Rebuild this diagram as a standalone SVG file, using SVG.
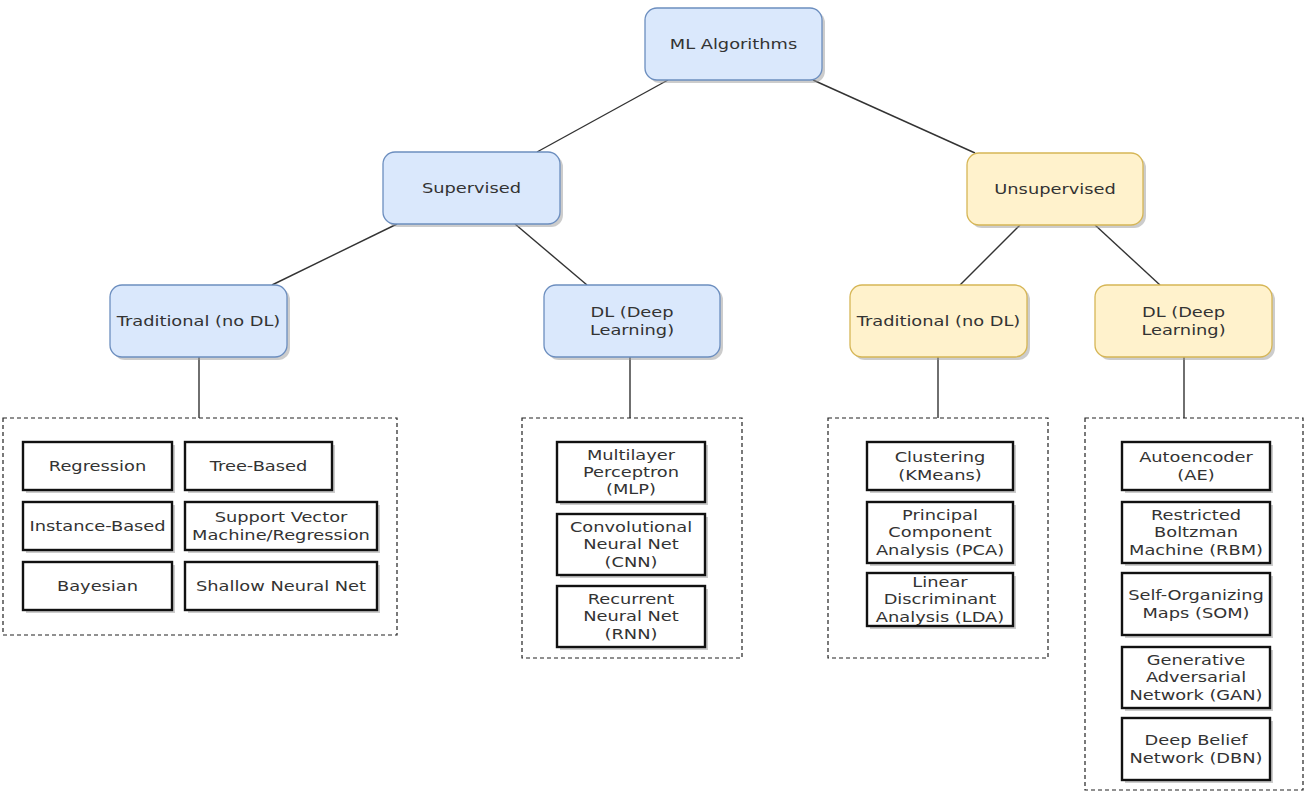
<svg xmlns="http://www.w3.org/2000/svg" width="1312" height="802" viewBox="0 0 1312 802">
<style>
.t{font-family:"DejaVu Sans",Verdana,sans-serif;font-size:14.6px;fill:#333;text-anchor:middle}
.blue{fill:#dae8fc;stroke:#6c8ebf;stroke-width:1.3}
.yel{fill:#fff2cc;stroke:#d6b656;stroke-width:1.3}
.sh{fill:#999;opacity:0.5}
.item{fill:#fff;stroke:#111;stroke-width:2.4}
.dash{fill:none;stroke:#222;stroke-width:1.2;stroke-dasharray:4 3}
.con line{stroke:#333;stroke-width:1.4}
</style>
<rect width="1312" height="802" fill="#fff"/>

<g id="connectors" class="con">
<line x1="668" y1="80" x2="537" y2="152"/>
<line x1="813" y1="80" x2="975" y2="153"/>
<line x1="397" y1="224" x2="272" y2="285"/>
<line x1="515" y1="224" x2="587" y2="285"/>
<line x1="1020" y1="225" x2="960" y2="285"/>
<line x1="1095" y1="225" x2="1160" y2="285"/>
<line x1="199" y1="357" x2="199" y2="418"/>
<line x1="630" y1="357" x2="630" y2="418"/>
<line x1="938" y1="357" x2="938" y2="418"/>
<line x1="1184" y1="357" x2="1184" y2="418"/>
</g>

<g id="ml">
<rect class="sh" x="648" y="11" width="177" height="72" rx="12"/>
<rect class="blue" x="645" y="8" width="177" height="72" rx="12"/>
<text class="t" transform="translate(733.5,49) scale(1.22,1)">ML Algorithms</text>
</g>
<g id="supervised">
<rect class="sh" x="386" y="155" width="177" height="72" rx="12"/>
<rect class="blue" x="383" y="152" width="177" height="72" rx="12"/>
<text class="t" transform="translate(471.5,193) scale(1.22,1)">Supervised</text>
</g>
<g id="unsupervised">
<rect class="sh" x="970" y="156" width="176" height="72" rx="12"/>
<rect class="yel" x="967" y="153" width="176" height="72" rx="12"/>
<text class="t" transform="translate(1055,194) scale(1.22,1)">Unsupervised</text>
</g>
<g id="sup-trad">
<rect class="sh" x="113" y="288" width="177" height="72" rx="12"/>
<rect class="blue" x="110" y="285" width="177" height="72" rx="12"/>
<text class="t" transform="translate(198.5,326) scale(1.22,1)">Traditional (no DL)</text>
</g>
<g id="sup-dl">
<rect class="sh" x="547" y="288" width="176" height="72" rx="12"/>
<rect class="blue" x="544" y="285" width="176" height="72" rx="12"/>
<text class="t" transform="translate(632,317.4) scale(1.22,1)"><tspan x="0">DL (Deep</tspan><tspan x="0" dy="17.3">Learning)</tspan></text>
</g>
<g id="unsup-trad">
<rect class="sh" x="853" y="288" width="177" height="72" rx="12"/>
<rect class="yel" x="850" y="285" width="177" height="72" rx="12"/>
<text class="t" transform="translate(938.5,326) scale(1.22,1)">Traditional (no DL)</text>
</g>
<g id="unsup-dl">
<rect class="sh" x="1098" y="288" width="177" height="72" rx="12"/>
<rect class="yel" x="1095" y="285" width="177" height="72" rx="12"/>
<text class="t" transform="translate(1183.5,317.4) scale(1.22,1)"><tspan x="0">DL (Deep</tspan><tspan x="0" dy="17.3">Learning)</tspan></text>
</g>

<g id="sup-trad-list">
<rect class="dash" x="3" y="418" width="394" height="217"/>
<rect class="sh" x="26" y="445" width="149" height="48"/><rect class="item" x="23" y="442" width="149" height="48"/>
<text class="t" transform="translate(97.5,471) scale(1.22,1)">Regression</text>
<rect class="sh" x="188" y="445" width="147" height="48"/><rect class="item" x="185" y="442" width="147" height="48"/>
<text class="t" transform="translate(258.5,471) scale(1.22,1)">Tree-Based</text>
<rect class="sh" x="26" y="505" width="149" height="48"/><rect class="item" x="23" y="502" width="149" height="48"/>
<text class="t" transform="translate(97.5,531) scale(1.22,1)">Instance-Based</text>
<rect class="sh" x="188" y="505" width="192" height="48"/><rect class="item" x="185" y="502" width="192" height="48"/>
<text class="t" transform="translate(281,522.4) scale(1.22,1)"><tspan x="0">Support Vector</tspan><tspan x="0" dy="17.3">Machine/Regression</tspan></text>
<rect class="sh" x="26" y="565" width="149" height="48"/><rect class="item" x="23" y="562" width="149" height="48"/>
<text class="t" transform="translate(97.5,591) scale(1.22,1)">Bayesian</text>
<rect class="sh" x="188" y="565" width="192" height="48"/><rect class="item" x="185" y="562" width="192" height="48"/>
<text class="t" transform="translate(281,591) scale(1.22,1)">Shallow Neural Net</text>
</g>

<g id="sup-dl-list">
<rect class="dash" x="522" y="418" width="220" height="240"/>
<rect class="sh" x="560" y="445" width="148" height="60"/><rect class="item" x="557" y="442" width="148" height="60"/>
<text class="t" transform="translate(631,459.7) scale(1.22,1)"><tspan x="0">Multilayer</tspan><tspan x="0" dy="17.3">Perceptron</tspan><tspan x="0" dy="17.3">(MLP)</tspan></text>
<rect class="sh" x="560" y="517" width="148" height="61"/><rect class="item" x="557" y="514" width="148" height="61"/>
<text class="t" transform="translate(631,532.2) scale(1.22,1)"><tspan x="0">Convolutional</tspan><tspan x="0" dy="17.3">Neural Net</tspan><tspan x="0" dy="17.3">(CNN)</tspan></text>
<rect class="sh" x="560" y="589" width="148" height="61"/><rect class="item" x="557" y="586" width="148" height="61"/>
<text class="t" transform="translate(631,604.2) scale(1.22,1)"><tspan x="0">Recurrent</tspan><tspan x="0" dy="17.3">Neural Net</tspan><tspan x="0" dy="17.3">(RNN)</tspan></text>
</g>

<g id="unsup-trad-list">
<rect class="dash" x="828" y="418" width="220" height="240"/>
<rect class="sh" x="870" y="445" width="146" height="48"/><rect class="item" x="867" y="442" width="146" height="48"/>
<text class="t" transform="translate(940,462.4) scale(1.22,1)"><tspan x="0">Clustering</tspan><tspan x="0" dy="17.3">(KMeans)</tspan></text>
<rect class="sh" x="870" y="505" width="146" height="61"/><rect class="item" x="867" y="502" width="146" height="61"/>
<text class="t" transform="translate(940,520.2) scale(1.22,1)"><tspan x="0">Principal</tspan><tspan x="0" dy="17.3">Component</tspan><tspan x="0" dy="17.3">Analysis (PCA)</tspan></text>
<rect class="sh" x="870" y="576" width="146" height="53"/><rect class="item" x="867" y="573" width="146" height="53"/>
<text class="t" transform="translate(940,587.2) scale(1.22,1)"><tspan x="0">Linear</tspan><tspan x="0" dy="17.3">Discriminant</tspan><tspan x="0" dy="17.3">Analysis (LDA)</tspan></text>
</g>

<g id="unsup-dl-list">
<rect class="dash" x="1085" y="418" width="218" height="372"/>
<rect class="sh" x="1125" y="445" width="148" height="48"/><rect class="item" x="1122" y="442" width="148" height="48"/>
<text class="t" transform="translate(1196,462.4) scale(1.22,1)"><tspan x="0">Autoencoder</tspan><tspan x="0" dy="17.3">(AE)</tspan></text>
<rect class="sh" x="1125" y="505" width="148" height="61"/><rect class="item" x="1122" y="502" width="148" height="61"/>
<text class="t" transform="translate(1196,520.2) scale(1.22,1)"><tspan x="0">Restricted</tspan><tspan x="0" dy="17.3">Boltzman</tspan><tspan x="0" dy="17.3">Machine (RBM)</tspan></text>
<rect class="sh" x="1125" y="576" width="148" height="62"/><rect class="item" x="1122" y="573" width="148" height="62"/>
<text class="t" transform="translate(1196,600.4) scale(1.22,1)"><tspan x="0">Self-Organizing</tspan><tspan x="0" dy="17.3">Maps (SOM)</tspan></text>
<rect class="sh" x="1125" y="650" width="148" height="61"/><rect class="item" x="1122" y="647" width="148" height="61"/>
<text class="t" transform="translate(1196,665.2) scale(1.22,1)"><tspan x="0">Generative</tspan><tspan x="0" dy="17.3">Adversarial</tspan><tspan x="0" dy="17.3">Network (GAN)</tspan></text>
<rect class="sh" x="1125" y="721" width="148" height="62"/><rect class="item" x="1122" y="718" width="148" height="62"/>
<text class="t" transform="translate(1196,745.4) scale(1.22,1)"><tspan x="0">Deep Belief</tspan><tspan x="0" dy="17.3">Network (DBN)</tspan></text>
</g>
</svg>
